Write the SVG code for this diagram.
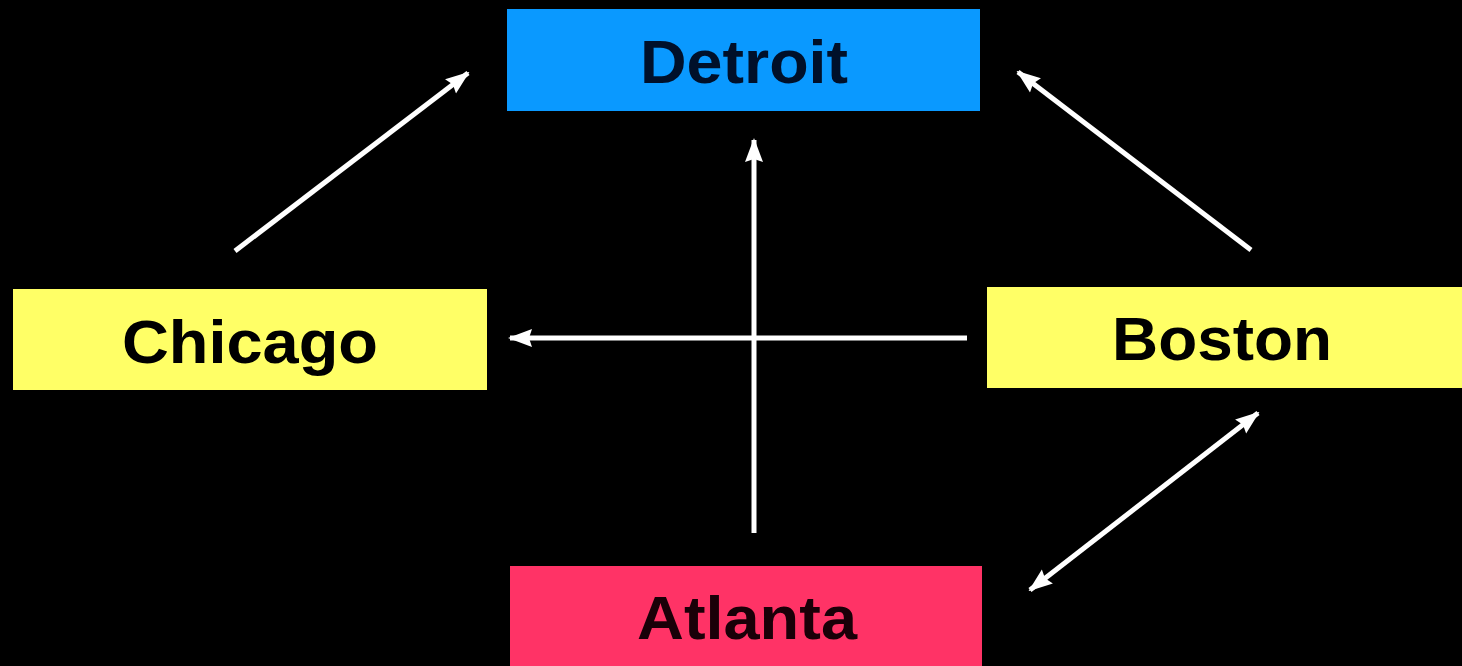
<svg xmlns="http://www.w3.org/2000/svg" width="1462" height="666" viewBox="0 0 1462 666">
  <style>
    .lbl { font-family: "Liberation Sans", Arial, sans-serif; font-weight: bold; font-size: 62px; fill: #000; text-anchor: middle; }
    .conn { stroke: #fff; stroke-width: 5; fill: none; }
  </style>
  <defs>
    <marker id="head" markerUnits="userSpaceOnUse" markerWidth="24" markerHeight="20" refX="22" refY="10" orient="auto-start-reverse" viewBox="0 0 24 20">
      <path d="M0,1 L24,10 L0,19 L3,10 z" fill="#fff"/>
    </marker>
  </defs>
  <rect x="0" y="0" width="1462" height="666" fill="#000"/>
  <g id="connectors">
    <line class="conn" x1="235" y1="251" x2="468" y2="73" marker-end="url(#head)"/>
    <line class="conn" x1="1251" y1="250" x2="1018" y2="72" marker-end="url(#head)"/>
    <line class="conn" x1="754" y1="533" x2="754" y2="140" marker-end="url(#head)"/>
    <line class="conn" x1="967" y1="338" x2="510" y2="338" marker-end="url(#head)"/>
    <line class="conn" x1="1030" y1="590" x2="1258" y2="413" marker-start="url(#head)" marker-end="url(#head)"/>
  </g>
  <g id="detroit">
    <rect x="507" y="9" width="473" height="102" fill="#0a99ff"/>
    <text class="lbl" x="744" y="83" textLength="208" lengthAdjust="spacingAndGlyphs" style="fill:#00102a">Detroit</text>
  </g>
  <g id="chicago">
    <rect x="13" y="289" width="474" height="101" fill="#ffff66"/>
    <text class="lbl" x="250" y="363" textLength="256" lengthAdjust="spacingAndGlyphs">Chicago</text>
  </g>
  <g id="boston">
    <rect x="987" y="287" width="475" height="101" fill="#ffff66"/>
    <text class="lbl" x="1222" y="360" textLength="220" lengthAdjust="spacingAndGlyphs">Boston</text>
  </g>
  <g id="atlanta">
    <rect x="510" y="566" width="472" height="110" fill="#ff3366"/>
    <text class="lbl" x="747" y="639" textLength="220" lengthAdjust="spacingAndGlyphs" style="fill:#1a0008">Atlanta</text>
  </g>
</svg>
